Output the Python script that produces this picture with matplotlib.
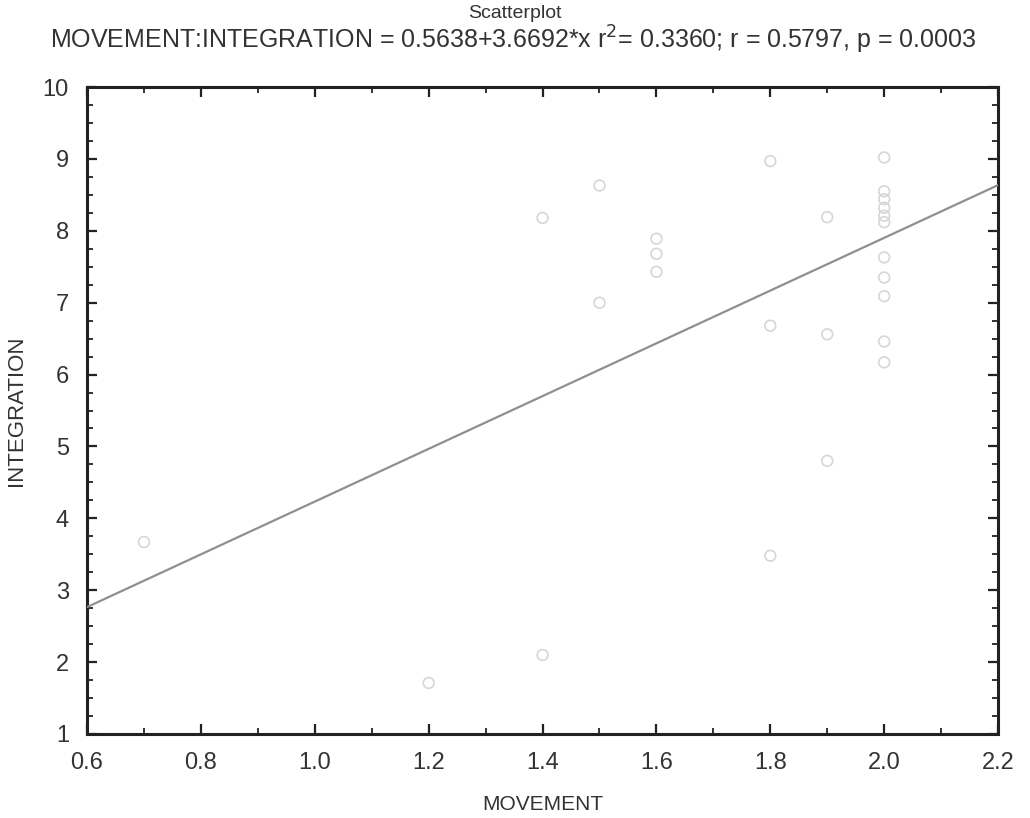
import matplotlib
matplotlib.use("Agg")
import matplotlib.pyplot as plt
from matplotlib.ticker import MultipleLocator, FormatStrFormatter
import numpy as np

plt.rcParams['font.family'] = ['Liberation Sans', 'DejaVu Sans']

# data
movement = [0.7, 1.2, 1.4, 1.4, 1.5, 1.5, 1.6, 1.6, 1.6,
            1.8, 1.8, 1.8, 1.9, 1.9, 1.9,
            2.0, 2.0, 2.0, 2.0, 2.0, 2.0, 2.0, 2.0, 2.0, 2.0, 2.0]
integration = [3.67, 1.71, 2.10, 8.18, 8.63, 7.00, 7.89, 7.68, 7.43,
               8.97, 6.68, 3.48, 8.19, 6.56, 4.80,
               9.02, 8.55, 8.44, 8.32, 8.21, 8.12, 7.63, 7.35, 7.09, 6.46, 6.17]

intercept = 0.5638
slope = 3.6692

fig = plt.figure(figsize=(10.30, 8.18), dpi=100)
ax = fig.add_axes([0.0845, 0.1027, 0.8845, 0.7909])

ax.scatter(movement, integration, s=60, facecolors='none',
           edgecolors='#d6d6d6', linewidths=1.2, zorder=2)

xs = np.array([0.6, 2.2])
ax.plot(xs, intercept + slope * xs, color='#8f8f8f', lw=1.6, zorder=3)

ax.set_xlim(0.6, 2.2)
ax.set_ylim(1, 10)
ax.xaxis.set_major_locator(MultipleLocator(0.2))
ax.xaxis.set_minor_locator(MultipleLocator(0.1))
ax.yaxis.set_major_locator(MultipleLocator(1))
ax.yaxis.set_minor_locator(MultipleLocator(0.25))
ax.xaxis.set_major_formatter(FormatStrFormatter('%.1f'))

ax.tick_params(which='both', direction='in', top=True, right=True,
               color='#222222', labelsize=17, labelcolor='#333333')
ax.tick_params(which='major', length=7, width=1.6, pad=13)
ax.tick_params(which='minor', length=4, width=1.3)
for sp in ax.spines.values():
    sp.set_linewidth(2.2)
    sp.set_color('#222222')

ax.set_xlabel('MOVEMENT', fontsize=15, color='#333333')
ax.set_ylabel('INTEGRATION', fontsize=16, color='#333333')
ax.xaxis.set_label_coords(0.5, -0.095)
ax.yaxis.set_label_coords(-0.066, 0.5)

fig.text(0.5, 0.984, 'Scatterplot', ha='center', va='center',
         fontsize=14, color='#333333')
fig.text(0.498, 0.951,
         'MOVEMENT:INTEGRATION = 0.5638+3.6692*x r$^2$= 0.3360; r = 0.5797, p = 0.0003',
         ha='center', va='center', fontsize=18, color='#333333')

fig.savefig('out.png', dpi=100)
